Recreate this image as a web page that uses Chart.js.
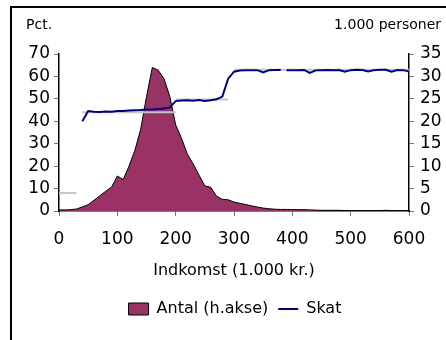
<!DOCTYPE html>
<html>
<head>
<meta charset="utf-8">
<script src="https://cdn.jsdelivr.net/npm/chart.js@4"></script>
<style>
  body { margin: 0; background: #fff; }
  canvas { display: block; }
</style>
</head>
<body>
<canvas id="grafik" width="446" height="340"></canvas>
<script>
// Indkomst (1.000 kr.) for fordelingen
const indkomst = [0, 10, 20, 30, 40, 50, 60, 70, 80, 90,
    100, 110, 120, 130, 140, 150, 160, 170, 180, 190,
    200, 210, 220, 230, 240, 250, 260, 270, 280, 290,
    300, 310, 320, 330, 340, 350, 360, 370, 380, 390,
    400, 410, 420, 430, 440, 450, 460, 470, 480, 490,
    500, 510, 520, 530, 540, 550, 560, 570, 580, 590, 600];

// Antal personer (1.000 personer, højre akse)
const antal = [0.25, 0.25, 0.3, 0.45, 0.9, 1.4, 2.4, 3.4, 4.4, 5.3,
    7.8, 7.0, 10, 13.5, 18.2, 25.5, 32, 31.4, 29.5, 25.5,
    19.2, 16.2, 12.7, 10.5, 8, 5.6, 5.3, 3.3, 2.6, 2.5,
    2, 1.7, 1.45, 1.15, 0.9, 0.65, 0.5, 0.4, 0.35, 0.35,
    0.3, 0.3, 0.3, 0.25, 0.2, 0.15, 0.15, 0.15, 0.15, 0.1,
    0.1, 0.1, 0.1, 0.1, 0.1, 0.1, 0.15, 0.1, 0.1, 0.1, 0.1];

// Skat (pct., venstre akse) - hul i linjen ved 385
const skatIndkomst = [40, 50, 60, 70, 80, 90, 100, 110, 120, 130,
    140, 150, 160, 170, 180, 190, 200, 210, 220, 230,
    240, 250, 260, 270, 280, 290, 300, 310, 320, 330,
    340, 350, 360, 370, 380, 385, 390, 400, 410, 420,
    430, 440, 450, 460, 470, 480, 490, 500, 510, 520,
    530, 540, 550, 560, 570, 580, 590, 600];
const skat = [40, 44.6, 44.3, 44.1, 44.4, 44.3, 44.6, 44.6, 44.8, 44.9,
    45, 45.2, 45.3, 45.5, 45.7, 46.2, 49, 49.3, 49.4, 49.2,
    49.5, 49.1, 49.4, 49.8, 51, 59, 62.1, 62.6, 62.7, 62.7,
    62.8, 61.8, 62.8, 62.9, 62.9, null, 62.7, 62.8, 62.8, 62.9,
    61.6, 62.7, 62.8, 62.9, 62.8, 62.9, 62.1, 62.8, 63, 62.9,
    62.2, 62.8, 63, 63, 62.1, 62.9, 62.8, 62.2];

// Marginale satser (grå streger)
const satsFra = [0, 40, 200, 300];
const satsTil = [30, 200, 290, 600];
const satsPct = [8, 44, 49.7, 63];

const xTicks = [0, 100, 200, 300, 400, 500, 600];
const venstreTicks = [0, 10, 20, 30, 40, 50, 60, 70];
const hoejreTicks = [0, 5, 10, 15, 20, 25, 30, 35];

const FONT = "'DejaVu Sans', sans-serif";

// Datasæt: skat først (tegnes øverst), antal sidst
const datasets = [];
datasets.push({
    label: 'Skat',
    data: skatIndkomst.map((x, i) => ({ x: x, y: skat[i] })),
    yAxisID: 'y',
    borderColor: '#000080',
    backgroundColor: '#000080',
    borderWidth: 2,
    pointRadius: 0,
    pointStyle: 'line',
    spanGaps: false,
    fill: false
});
satsPct.forEach((p, i) => {
    datasets.push({
        label: 'sats',
        data: [{ x: satsFra[i], y: p }, { x: satsTil[i], y: p }],
        yAxisID: 'y',
        borderColor: '#c4c4c4',
        borderWidth: 2,
        pointRadius: 0,
        fill: false
    });
});
datasets.push({
    label: 'Antal (h.akse)',
    data: indkomst.map((x, i) => ({ x: x, y: antal[i] })),
    yAxisID: 'y2',
    borderColor: '#000000',
    backgroundColor: '#993366',
    borderWidth: 1,
    pointRadius: 0,
    pointStyle: 'rect',
    fill: 'origin'
});

// Ramme og enhedstekster
const rammePlugin = {
    id: 'ramme',
    afterLayout(chart) {
        // forklaringen står lidt til højre for midten i originalen
        chart.legend.left += 12;
        chart.legend.right += 12;
    },
    beforeDraw(chart) {
        const ctx = chart.ctx;
        ctx.save();
        ctx.fillStyle = '#fff';
        ctx.fillRect(0, 0, chart.width, chart.height);
        ctx.strokeStyle = '#000';
        ctx.lineWidth = 2;
        ctx.beginPath();
        ctx.moveTo(11, chart.height);
        ctx.lineTo(11, 7);
        ctx.lineTo(chart.width, 7);
        ctx.stroke();
        ctx.restore();
    },
    afterDraw(chart) {
        const ctx = chart.ctx;
        ctx.save();
        ctx.fillStyle = '#000';
        ctx.font = '14px ' + FONT;
        ctx.textBaseline = 'alphabetic';
        ctx.textAlign = 'left';
        ctx.fillText('Pct.', 26, 29);
        ctx.textAlign = 'right';
        ctx.fillText('1.000 personer', 441, 29);
        ctx.restore();
    }
};

new Chart(document.getElementById('grafik'), {
    type: 'line',
    data: { datasets: datasets },
    plugins: [rammePlugin],
    options: {
        responsive: false,
        animation: false,
        layout: { padding: { top: 54, bottom: 13, left: 0, right: 0 } },
        plugins: {
            tooltip: { enabled: false },
            legend: {
                position: 'bottom',
                labels: {
                    usePointStyle: true,
                    pointStyleWidth: 20,
                    boxHeight: 12,
                    color: '#000',
                    font: { family: FONT, size: 16 },
                    padding: 10,
                    filter: (item) => item.text !== 'sats',
                    sort: (a, b) => b.datasetIndex - a.datasetIndex
                }
            }
        },
        scales: {
            x: {
                type: 'linear',
                min: 0,
                max: 600,
                afterBuildTicks: (s) => { s.ticks = xTicks.map(v => ({ value: v })); },
                afterFit: (s) => { s.height = 80; },
                grid: { drawOnChartArea: false, tickLength: 5, color: '#777' },
                border: { color: '#000', width: 1.5 },
                ticks: { color: '#000', font: { family: FONT, size: 17 }, padding: 13, autoSkip: false, maxRotation: 0 },
                title: {
                    display: true,
                    text: 'Indkomst (1.000 kr.)',
                    color: '#000',
                    font: { family: FONT, size: 16 },
                    padding: { top: 0, bottom: 11 }
                }
            },
            y: {
                position: 'left',
                min: 0,
                max: 70,
                afterBuildTicks: (s) => { s.ticks = venstreTicks.map(v => ({ value: v })); },
                afterFit: (s) => { s.width = 59; },
                grid: { drawOnChartArea: false, tickLength: 5, color: '#777' },
                border: { color: '#000', width: 1.5 },
                ticks: { color: '#000', font: { family: FONT, size: 17 }, padding: 4, autoSkip: false }
            },
            y2: {
                position: 'right',
                min: 0,
                max: 35,
                afterBuildTicks: (s) => { s.ticks = hoejreTicks.map(v => ({ value: v })); },
                afterFit: (s) => { s.width = 37; },
                grid: { drawOnChartArea: false, tickLength: 5, color: '#777' },
                border: { color: '#000', width: 1.5 },
                ticks: { color: '#000', font: { family: FONT, size: 17 }, padding: 6, autoSkip: false }
            }
        }
    }
});
</script>
</body>
</html>
